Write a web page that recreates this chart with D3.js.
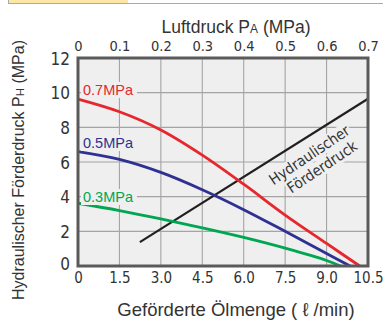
<!DOCTYPE html>
<html>
<head>
<meta charset="utf-8">
<script src="https://cdn.jsdelivr.net/npm/d3@7"></script>
<style>
  html, body { margin: 0; padding: 0; background: #fff; }
  svg { display: block; }
  .tick-label { font-family: "Liberation Sans Narrow", "DejaVu Sans Condensed", "Liberation Sans", sans-serif; fill: #333; }
  .title { font-family: "Liberation Sans", "Noto Sans", sans-serif; fill: #333; }
</style>
</head>
<body>
<div id="chart"></div>
<script>
// Geförderte Ölmenge (l/min) – untere Achse
const flowTicks = [0, 1.5, 3.0, 4.5, 6.0, 7.5, 9.0, 10.5];
// Luftdruck PA (MPa) – obere Achse
const airTicks = [0, 0.1, 0.2, 0.3, 0.4, 0.5, 0.6, 0.7];
// Hydraulischer Förderdruck PH (MPa)
const pressureTicks = [0, 2, 4, 6, 8, 10, 12];

// Kennlinien je Luftdruck: [Ölmenge, Förderdruck]
const curve07 = [[0, 9.63], [1.5, 8.9], [3.0, 7.85], [4.5, 6.4], [6.0, 4.72], [7.5, 2.94], [9.0, 1.3], [10.2, 0]];
const curve05 = [[0, 6.6], [1.5, 6.15], [3.0, 5.4], [4.5, 4.4], [6.0, 3.25], [7.5, 2.0], [9.0, 0.72], [9.85, 0]];
const curve03 = [[0, 3.62], [1.5, 3.2], [3.0, 2.72], [4.5, 2.2], [6.0, 1.65], [7.5, 1.03], [9.0, 0.32], [9.5, 0]];
// Hydraulischer Förderdruck über Luftdruck (Gerade)
const hydroLine = [[2.24, 1.38], [10.5, 9.65]];

const series = [
    { name: "0.7MPa", points: curve07, color: "#e8262d", labelY: 95 },
    { name: "0.5MPa", points: curve05, color: "#2e3192", labelY: 148 },
    { name: "0.3MPa", points: curve03, color: "#00a651", labelY: 202 }
];

const width = 383, height = 323;
const plotBg = "#eeefee";

const svg = d3.select('#chart').append('svg')
    .attr('width', width)
    .attr('height', height);

// Deko-Leiste oben
svg.append('rect').attr('x', 8).attr('y', 0).attr('width', 120).attr('height', 3).attr('fill', '#fde7a6');
svg.append('line').attr('x1', 8).attr('x2', 383).attr('y1', 3.5).attr('y2', 3.5).attr('stroke', '#aaa').attr('stroke-width', 1);
svg.append('line').attr('x1', 8.5).attr('x2', 8.5).attr('y1', 0).attr('y2', 4).attr('stroke', '#aaa');

const x = d3.scaleLinear().domain([0, 10.5]).range([78, 368]);
const xTop = d3.scaleLinear().domain([0, 0.7]).range([78, 368]);
const y = d3.scaleLinear().domain([0, 12]).range([266, 58]);

// Hintergrund
svg.append('rect')
    .attr('x', x(0)).attr('y', y(12))
    .attr('width', x(10.5) - x(0)).attr('height', y(0) - y(12))
    .attr('fill', plotBg);

// Gitter
const grid = svg.append('g').attr('stroke', '#a4a4a4').attr('stroke-width', 1.1);
grid.selectAll('.vgrid').data(flowTicks.slice(1, -1)).enter().append('line')
    .attr('x1', d => x(d)).attr('x2', d => x(d))
    .attr('y1', y(12)).attr('y2', y(0));
grid.selectAll('.hgrid').data(pressureTicks.slice(1, -1)).enter().append('line')
    .attr('x1', x(0)).attr('x2', x(10.5))
    .attr('y1', d => y(d)).attr('y2', d => y(d));

const line = d3.line()
    .x(d => x(d[0]))
    .y(d => y(d[1]))
    .curve(d3.curveCatmullRom.alpha(0.5));

// Hydraulischer Förderdruck Gerade
svg.append('path')
    .datum(hydroLine)
    .attr('d', d3.line().x(d => x(d[0])).y(d => y(d[1])))
    .attr('fill', 'none')
    .attr('stroke', '#231f20')
    .attr('stroke-width', 2.2);

// Kennlinien
series.forEach(s => {
    svg.append('path')
        .datum(s.points)
        .attr('d', line)
        .attr('fill', 'none')
        .attr('stroke', s.color)
        .attr('stroke-width', 2.8);
});

// Beschriftungen der Kennlinien (mit Hintergrund über dem Gitter)
series.forEach(s => {
    const t = svg.append('text')
        .attr('class', 'title')
        .attr('x', 83)
        .attr('y', s.labelY)
        .attr('font-size', 14.5)
        .style('fill', s.color)
        .text(s.name);
    const b = t.node().getBBox();
    svg.insert('rect', () => t.node())
        .attr('x', b.x - 2).attr('y', b.y).attr('width', b.width + 5).attr('height', b.height)
        .attr('fill', plotBg);
});

// Schräger Text
const rot = svg.append('g')
    .attr('transform', 'translate(310,156) rotate(-34)');
[["Hydraulischer", 0, 4], ["Förderdruck", 4, 21]].forEach(([txt, dx, dy]) => {
    const t = rot.append('text')
        .attr('class', 'tick-label')
        .attr('x', dx).attr('y', dy)
        .attr('text-anchor', 'middle')
        .attr('font-size', 15)
        .text(txt);
    const b = t.node().getBBox();
    rot.insert('rect', () => t.node())
        .attr('x', b.x - 1).attr('y', b.y + 1).attr('width', b.width + 2).attr('height', b.height - 2)
        .attr('fill', plotBg);
});

// Rahmen
svg.append('rect')
    .attr('x', x(0)).attr('y', y(12))
    .attr('width', x(10.5) - x(0)).attr('height', y(0) - y(12))
    .attr('fill', 'none')
    .attr('stroke', '#5a5a5a')
    .attr('stroke-width', 3);

// Achsenbeschriftungen
const fmtFlow = d => d === 0 ? "0" : d.toFixed(1);
const fmtAir = d => d === 0 ? "0" : d.toFixed(1);

const bottomAxis = svg.append('g')
    .attr('transform', `translate(0,${y(0) + 6})`)
    .call(d3.axisBottom(x).tickValues(flowTicks).tickFormat(fmtFlow).tickSize(0).tickPadding(0));
const topAxis = svg.append('g')
    .attr('transform', `translate(0,${y(12) - 7})`)
    .call(d3.axisTop(xTop).tickValues(airTicks).tickFormat(fmtAir).tickSize(0).tickPadding(0));
const leftAxis = svg.append('g')
    .attr('transform', `translate(${x(0) - 8},0)`)
    .call(d3.axisLeft(y).tickValues(pressureTicks).tickFormat(d3.format('d')).tickSize(0).tickPadding(0));

[bottomAxis, topAxis, leftAxis].forEach(a => {
    a.select('.domain').remove();
    a.selectAll('text').attr('class', 'tick-label').attr('fill', null);
});
bottomAxis.selectAll('text').attr('font-size', 15).attr('dy', '0.72em');
topAxis.selectAll('text').attr('font-size', 14.5).attr('dy', '0');
leftAxis.selectAll('text').attr('font-size', 17).attr('font-family', '"Liberation Sans", sans-serif').attr('dy', '0.36em');
leftAxis.select('.tick:first-of-type text').attr('dy', '0.2em');

// Titel
const topTitle = svg.append('text')
    .attr('class', 'title')
    .attr('x', 236).attr('y', 33)
    .attr('text-anchor', 'middle')
    .attr('font-size', 17.5);
topTitle.append('tspan').text('Luftdruck P');
topTitle.append('tspan').attr('font-size', 12).text('A');
topTitle.append('tspan').text(' (MPa)');

svg.append('text')
    .attr('class', 'title')
    .attr('x', 236).attr('y', 316)
    .attr('text-anchor', 'middle')
    .attr('font-size', 18.5)
    .text('Geförderte Ölmenge ( ℓ /min)');

const yTitle = svg.append('text')
    .attr('class', 'title')
    .attr('transform', 'translate(24,170) rotate(-90)')
    .attr('text-anchor', 'middle')
    .attr('font-size', 16);
yTitle.append('tspan').text('Hydraulischer Förderdruck P');
yTitle.append('tspan').attr('font-size', 11.5).text('H');
yTitle.append('tspan').text(' (MPa)');
</script>
</body>
</html>
